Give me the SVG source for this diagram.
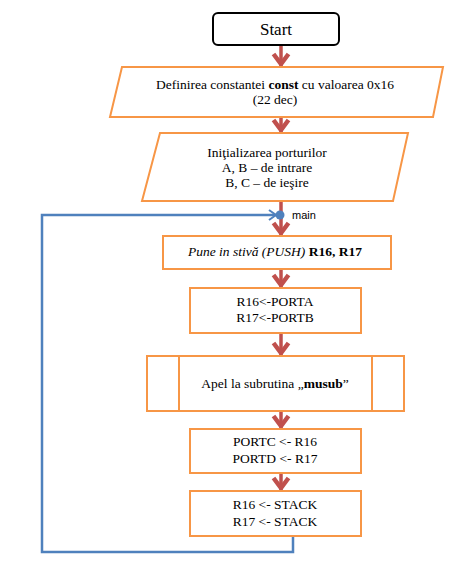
<svg xmlns="http://www.w3.org/2000/svg" width="456" height="561" viewBox="0 0 456 561">
<defs>
<style>
.box{fill:#fff;stroke:#F79646;stroke-width:2}
.t{font-family:'Liberation Serif','Times New Roman',serif;font-size:13.5px;fill:#000;text-anchor:middle}
.fl{stroke:#C0504D;stroke-width:3.5;fill:none}
.loop{stroke:#4F81BD;stroke-width:2.5;fill:none}
</style>
<marker id="ah" markerUnits="userSpaceOnUse" orient="auto" markerWidth="24" markerHeight="24" viewBox="-16 -12 18 24" refX="0" refY="0">
<path d="M-13,-7.5 L-3,0 L-13,7.5" fill="none" stroke="#C0504D" stroke-width="4.5"/>
</marker>
<marker id="bh" markerUnits="userSpaceOnUse" orient="auto" markerWidth="14" markerHeight="14" viewBox="-10 -7 12 14" refX="0" refY="0">
<path d="M-7,-5 L0,0 L-7,5" fill="none" stroke="#4F81BD" stroke-width="2"/>
</marker>
</defs>
<rect width="456" height="561" fill="#fff"/>
<g id="connectors">
<line class="fl" x1="281" y1="45" x2="281" y2="67" marker-end="url(#ah)"/>
<line class="fl" x1="281" y1="117" x2="281" y2="133" marker-end="url(#ah)"/>
<line class="fl" x1="281" y1="201" x2="281" y2="236" marker-end="url(#ah)"/>
<line class="fl" x1="281" y1="269" x2="281" y2="288" marker-end="url(#ah)"/>
<line class="fl" x1="281" y1="333" x2="281" y2="356" marker-end="url(#ah)"/>
<line class="fl" x1="281" y1="411" x2="281" y2="429" marker-end="url(#ah)"/>
<line class="fl" x1="281" y1="473" x2="281" y2="491" marker-end="url(#ah)"/>
<polyline class="loop" points="293,536 293,552 42,552 42,215 276,215" marker-end="url(#bh)"/>
</g>
<g id="start">
<rect x="213" y="13" width="126" height="32" rx="5" fill="#fff" stroke="#000" stroke-width="2"/>
<text x="276" y="35" class="t" font-family="Liberation Serif, serif" style="font-size:17px">Start</text>
</g>
<g id="define" font-family="Liberation Serif, serif">
<polygon class="box" points="122,67 443,67 433,117 110,117"/>
<text x="275" y="89" class="t">Definirea constantei <tspan font-weight="bold">const</tspan> cu valoarea 0x16</text>
<text x="275" y="104" class="t">(22 dec)</text>
</g>
<g id="init" font-family="Liberation Serif, serif">
<polygon class="box" points="160,133 408,133 393,201 142,201"/>
<text x="267" y="157" class="t">Iniţializarea porturilor</text>
<text x="267" y="172" class="t">A, B – de intrare</text>
<text x="267" y="187" class="t">B, C – de ieşire</text>
</g>
<g id="main">
<circle cx="280" cy="215" r="4.5" fill="#4F81BD"/>
<text x="292" y="219" font-family="Liberation Sans, Arial, sans-serif" font-size="11" fill="#000">main</text>
</g>
<g id="push" font-family="Liberation Serif, serif">
<rect class="box" x="163" y="236" width="228" height="33"/>
<text x="275" y="256" class="t"><tspan font-style="italic">Pune in stivă (PUSH)</tspan> <tspan font-weight="bold">R16, R17</tspan></text>
</g>
<g id="read" font-family="Liberation Serif, serif">
<rect class="box" x="190" y="288" width="171" height="45"/>
<text x="275" y="306" class="t">R16&lt;-PORTA</text>
<text x="275" y="322" class="t">R17&lt;-PORTB</text>
</g>
<g id="call" font-family="Liberation Serif, serif">
<rect class="box" x="147" y="356" width="257" height="55"/>
<line x1="179" y1="356" x2="179" y2="411" stroke="#F79646" stroke-width="2"/>
<line x1="372" y1="356" x2="372" y2="411" stroke="#F79646" stroke-width="2"/>
<text x="275" y="388" class="t">Apel la subrutina „<tspan font-weight="bold">musub</tspan>”</text>
</g>
<g id="write" font-family="Liberation Serif, serif">
<rect class="box" x="190" y="429" width="171" height="44"/>
<text x="275" y="446" class="t">PORTC  &lt;- R16</text>
<text x="275" y="463" class="t">PORTD  &lt;- R17</text>
</g>
<g id="pop" font-family="Liberation Serif, serif">
<rect class="box" x="190" y="491" width="171" height="45"/>
<text x="275" y="509" class="t">R16 &lt;- STACK</text>
<text x="275" y="526" class="t">R17 &lt;- STACK</text>
</g>
</svg>
